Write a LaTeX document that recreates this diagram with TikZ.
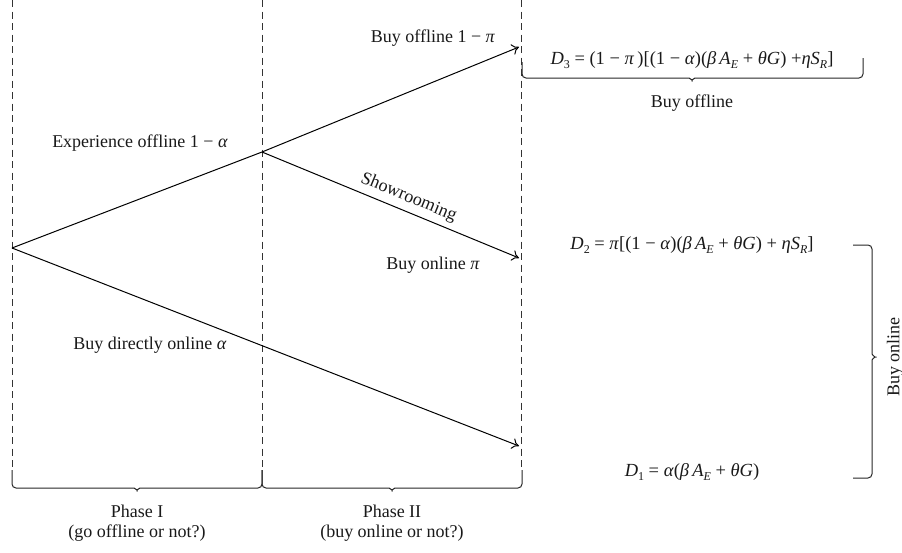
\documentclass[tikz,border=0pt]{standalone}
\usepackage{fontspec}
\setmainfont{Liberation Serif}
\usetikzlibrary{arrows.meta}
\newcommand{\lsub}[1]{\raisebox{-0.5ex}{\fontsize{12}{12}\selectfont #1}}
\newcommand{\mi}[1]{\textit{#1}}
\begin{document}
\begin{tikzpicture}[x=1pt,y=-1pt,
  guide/.style={draw=black!80, line width=0.9pt, dash pattern=on 7pt off 4.5pt},
  plainflow/.style={draw=black, line width=1pt},
  flow/.style={plainflow, -{To[length=7pt,width=11pt]}},
  brc/.style={draw=black!85, line width=1pt, rounded corners=4pt},
  lbl/.style={font=\fontsize{18}{20}\selectfont, inner sep=0pt, text=black!90, align=center},
  fml/.style={lbl, font=\fontsize{18.5}{20}\selectfont}]
\useasboundingbox (0,0) rectangle (902,552);
% guide lines
\coordinate (g1a) at (12,0);  \coordinate (g1b) at (12,470);
\coordinate (g2a) at (262,0); \coordinate (g2b) at (262,470);
\coordinate (g3a) at (521,0); \coordinate (g3b) at (521,470);
\draw[guide] (g1a) -- (g1b);
\draw[guide] (g2a) -- (g2b);
\draw[guide] (g3a) -- (g3b);
% tree
\coordinate (root) at (12,248);
\coordinate (mid) at (262,152);
\coordinate (t1) at (519,47);
\coordinate (t2) at (519,258);
\coordinate (t3) at (519,446);
\draw[plainflow] (root) -- (mid);
\draw[flow] (mid) -- (t1);
\draw[flow] (mid) -- node[lbl, sloped, pos=0.55, above=5pt] (show) {Showrooming} (t2);
\draw[flow] (root) -- (t3);
% branch labels
\node[lbl] (exp) at (140,143) {Experience offline 1 − \mi{α}};
\node[lbl] (boff) at (433,38) {Buy offline 1 − \mi{π}};
\node[lbl] (bon) at (433,265) {Buy online \mi{π}};
\node[lbl] (bdir) at (150,345) {Buy directly online \mi{α}};
% demands
\node[fml] (d3) at (692,60) {\mi{D}\lsub{3} = (1 − \mi{π}\,)[(1 − \mi{α})(\mi{β\,A}\lsub{\mi{E}} + \mi{θG}) +\mi{ηS}\lsub{\mi{R}}]};
\node[lbl] (boffl) at (692,103) {Buy offline};
\node[fml] (d2) at (692,245) {\mi{D}\lsub{2} = \mi{π}[(1 − \mi{α})(\mi{β\,A}\lsub{\mi{E}} + \mi{θG}) + \mi{ηS}\lsub{\mi{R}}]};
\node[fml] (d1) at (692,472) {\mi{D}\lsub{1} = \mi{α}(\mi{β\,A}\lsub{\mi{E}} + \mi{θG})};
\node[lbl, rotate=90] (bonl) at (895,357) {Buy online};
% phases
\node[lbl] (p1) at (137,523) {Phase I\\(go offline or not?)};
\node[lbl] (p2) at (392,523) {Phase II\\(buy online or not?)};
% braces
\draw[brc] (12,470) -- (12,488) -- (130,488) .. controls (134,488) and (137,490) .. (137,494)
  .. controls (137,490) and (140,488) .. (144,488) -- (262,488) -- (262,470);
\draw[brc] (262,470) -- (262,488) -- (385,488) .. controls (389,488) and (392,490) .. (392,494)
  .. controls (392,490) and (395,488) .. (399,488) -- (522,488) -- (522,470);
\draw[brc] (522,62) -- (522,78) -- (685,78) .. controls (689,78) and (692,80) .. (692,84)
  .. controls (692,80) and (695,78) .. (699,78) -- (863,78) -- (863,58);
\draw[brc] (853,245) -- (872,245) -- (872,350) .. controls (872,354) and (874,357) .. (879,357)
  .. controls (874,357) and (872,360) .. (872,364) -- (872,478) -- (853,478);
\end{tikzpicture}
\end{document}
